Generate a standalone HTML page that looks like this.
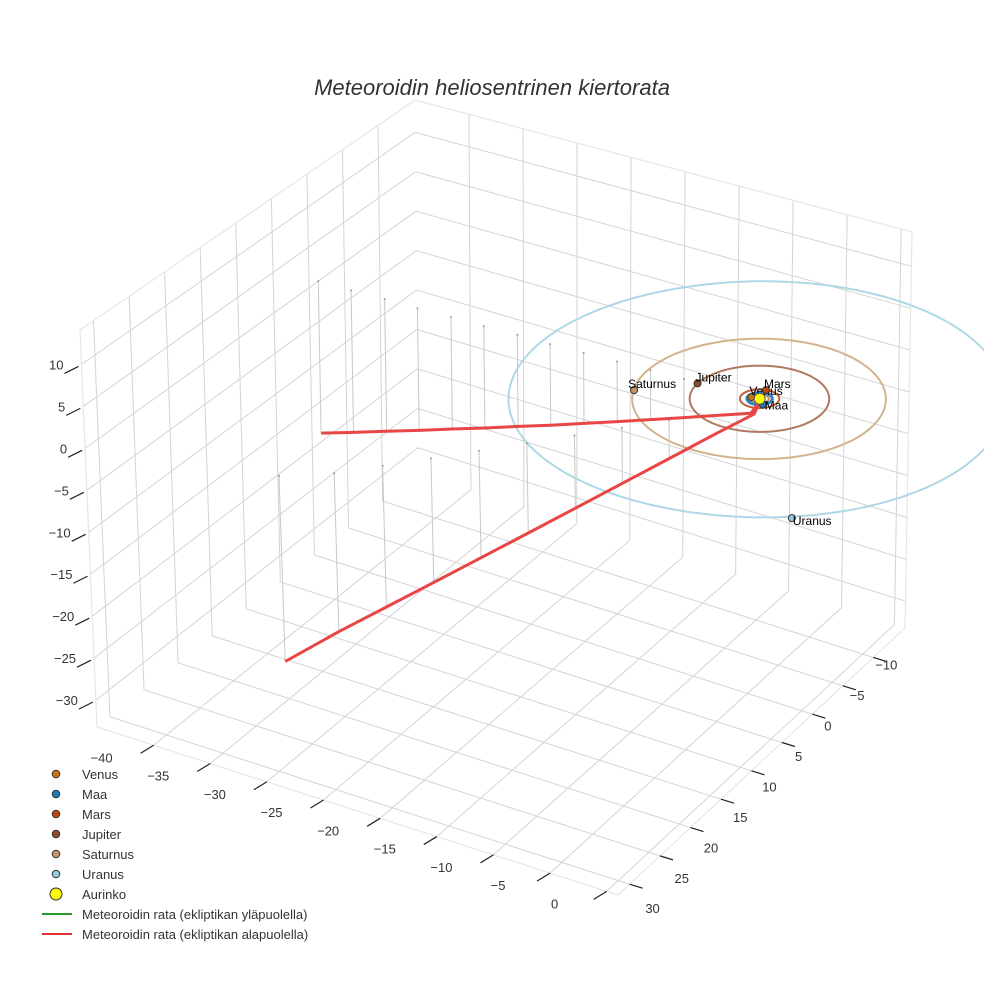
<!DOCTYPE html>
<html><head><meta charset="utf-8">
<style>
html,body{margin:0;padding:0;background:#fff;}
svg{display:block;font-family:"Liberation Sans",sans-serif;}
</style></head>
<body>
<svg id="chart" width="984" height="984" viewBox="0 0 984 984" xmlns="http://www.w3.org/2000/svg">
<rect width="984" height="984" fill="#fff"/>
<text x="492" y="95" text-anchor="middle" font-size="22" font-style="italic" fill="#333">Meteoroidin heliosentrinen kiertorata</text>
<g id="grid"></g>
<g id="orbits"></g>
<g id="traj"></g>
<g id="marks"></g>
<g id="axes"></g>
<g id="legend"></g>
</svg>
<script>
// ---- data ----
const xTicks = [-40,-35,-30,-25,-20,-15,-10,-5,0];
const yTicks = [-10,-5,0,5,10,15,20,25,30];
const zTicks = [-30,-25,-20,-15,-10,-5,0,5,10];
const sunPos = [-5.2,-2.2,0];
const planetNames = ["Venus","Maa","Mars","Jupiter","Saturnus","Uranus"];
const planetX = [-5.9,-4.5,-5.5,-10.7,-14.4,6.8];
const planetY = [-2.1,-1.5,-3.7,-1.9,1.6,13.6];
const planetZ = [0,0,0,0,0,0];
const orbitRadius = [0.72,1.0,1.55,5.5,10.0,19.6];
const upperX = [-6,-9,-12,-15,-18,-21,-24,-27,-30,-33,-36,-39,-42,-45];
const upperY = [-2.2,-2.1,-2.0,-1.9,-1.8,-1.7,-1.6,-1.6,-1.5,-1.5,-1.4,-1.4,-1.3,-1.3];
const upperZ = [-2.0,-3.3,-4.6,-5.9,-7.2,-8.5,-9.8,-11.1,-12.4,-13.7,-15.0,-16.3,-17.6,-18.9];
const lowerX = [-5.0,-7.0,-9.5,-12.0,-14.5,-17.0,-19.5,-22.0,-24.5,-27.0,-30.3];
const lowerY = [-1.0,1.5,4.5,7.5,10.5,13.5,16.5,19.5,22.5,25.5,28.1];
const lowerZ = [-1.0,-2.5,-4.5,-6.5,-8.5,-10.5,-12.5,-14.5,-16.5,-18.5,-21.7];

// ---- styles ----
const planetColor = ["#c8780a","#1f77b4","#c1440e","#8b4a2b","#c8956a","#8fcbdc"];
const orbitColor = ["#e0904a","#2f86c4","#c0603a","#b07a5e","#d2b48c","#add8e6"];
const orbitWidth = [2,3,2,2,2,2];

// ---- projection (trilinear across box corners) ----
const XR=[-45,1], YR=[-15.2,31.9], ZR=[-33.2,14.1];
const A=[418,473],B=[905,628],C=[97,727],D=[618,895];
const E=[415,100],F=[912,232],G=[80,330],H=[608,468];
function lerp(p,q,t){return [p[0]+(q[0]-p[0])*t,p[1]+(q[1]-p[1])*t];}
function proj(x,y,z){
  const u=(x-XR[0])/(XR[1]-XR[0]), v=(y-YR[0])/(YR[1]-YR[0]), w=(z-ZR[0])/(ZR[1]-ZR[0]);
  const fl=lerp(lerp(A,B,u),lerp(C,D,u),v);
  const tp=lerp(lerp(E,F,u),lerp(G,H,u),v);
  return lerp(fl,tp,w);
}
const NS="http://www.w3.org/2000/svg";
function mk(tag,attrs,parent){const e=document.createElementNS(NS,tag);for(const k in attrs)e.setAttribute(k,attrs[k]);parent.appendChild(e);return e;}
function line(p,q,attrs,parent){return mk("line",Object.assign({x1:p[0],y1:p[1],x2:q[0],y2:q[1]},attrs),parent);}

const grid=document.getElementById("grid");
const gs={stroke:"#d4d4d4","stroke-width":1};
xTicks.forEach(x=>{const l=line(proj(x,YR[0],ZR[0]),proj(x,YR[1],ZR[0]),gs,grid);

});
yTicks.forEach(y=>{const l=line(proj(XR[0],y,ZR[0]),proj(XR[1],y,ZR[0]),gs,grid);

});
xTicks.forEach(x=>{const l=line(proj(x,YR[0],ZR[0]),proj(x,YR[0],ZR[1]),gs,grid);

});
zTicks.forEach(z=>{const l=line(proj(XR[0],YR[0],z),proj(XR[1],YR[0],z),gs,grid);

});
yTicks.forEach(y=>{const l=line(proj(XR[0],y,ZR[0]),proj(XR[0],y,ZR[1]),gs,grid);

});
zTicks.forEach(z=>{const l=line(proj(XR[0],YR[0],z),proj(XR[0],YR[1],z),gs,grid);

});
const es={stroke:"#e6e6e6","stroke-width":1.2};
[[[XR[0],YR[1],ZR[0]],[XR[1],YR[1],ZR[0]]],[[XR[1],YR[1],ZR[0]],[XR[1],YR[0],ZR[0]]],
 [[XR[0],YR[1],ZR[0]],[XR[0],YR[1],ZR[1]]],[[XR[0],YR[1],ZR[1]],[XR[0],YR[0],ZR[1]]],
 [[XR[0],YR[0],ZR[1]],[XR[1],YR[0],ZR[1]]],[[XR[1],YR[0],ZR[1]],[XR[1],YR[0],ZR[0]]]].forEach(s=>{
 const l=line(proj(...s[0]),proj(...s[1]),es,grid);
 
 });

const axes=document.getElementById("axes");
const ts={stroke:"#222","stroke-width":1.2};
xTicks.forEach(x=>{const p=proj(x,YR[1],ZR[0]);
 const t=line(p,[p[0]-13,p[1]+8],ts,axes);
 
 
 const tx=mk("text",{x:p[0]-52,y:p[1]+17,"font-size":13,fill:"#333","text-anchor":"middle"},axes);
 tx.textContent=String(x).replace("-","\u2212");
 
 });
yTicks.forEach(y=>{const p=proj(XR[1],y,ZR[0]);
 const t=line(p,[p[0]+13,p[1]+4],ts,axes);
 
 
 const f=(y-yTicks[0])/(yTicks[yTicks.length-1]-yTicks[0]);
 const tx=mk("text",{x:p[0]+13+f*10,y:p[1]+12+f*17,"font-size":13,fill:"#333","text-anchor":"middle"},axes);
 tx.textContent=String(y).replace("-","\u2212");
 
 });
zTicks.forEach(z=>{const p=proj(XR[0],YR[1],z);
 const t=line([p[0]-3,p[1]+2],[p[0]-17,p[1]+9],ts,axes);
 
 
 const tx=mk("text",{x:p[0]-18,y:p[1]+5,"font-size":13,fill:"#333","text-anchor":"end"},axes);
 tx.textContent=String(z).replace("-","\u2212");
 
 });

const orb=document.getElementById("orbits");
orbitRadius.forEach((r,i)=>{
 let pts=[];
 for(let k=0;k<=180;k++){const a=k/180*2*Math.PI;const p=proj(sunPos[0]+r*Math.cos(a),sunPos[1]+r*Math.sin(a),sunPos[2]);pts.push(p[0].toFixed(1)+","+p[1].toFixed(1));}
 const pl=mk("polyline",{points:pts.join(" "),fill:"none",stroke:orbitColor[i],"stroke-width":orbitWidth[i]},orb);
 
 
});

const traj=document.getElementById("traj");
function branch(X,Y,Z,name){
 X.forEach((x,i)=>{ if(i<2) return;
  const p=proj(x,Y[i],Z[i]), q=proj(x,Y[i],0);
  const s=line(p,q,{stroke:"#c8c8c8","stroke-width":1},traj);
  
  
  const d=mk("circle",{cx:q[0],cy:q[1],r:1,fill:"#999"},traj);
  
  
 });
 const pts=X.map((x,i)=>proj(x,Y[i],Z[i]));
 const sp=proj(sunPos[0],sunPos[1],-0.3);
 pts.unshift(sp);
 const pl=mk("polyline",{points:pts.map(p=>p[0].toFixed(1)+","+p[1].toFixed(1)).join(" "),fill:"none",stroke:"#e84545","stroke-width":3,"stroke-linejoin":"round"},traj);
 
 
}
branch(upperX,upperY,upperZ,'meteoroid-path-outgoing');
branch(lowerX,lowerY,lowerZ,'meteoroid-path-incoming');

const marks=document.getElementById("marks");
planetNames.forEach((n,i)=>{
 const p=proj(planetX[i],planetY[i],planetZ[i]);
 const c=mk("circle",{cx:p[0],cy:p[1],r:3.5,fill:planetColor[i],stroke:"#333","stroke-width":1},marks);
 
 
 const t=mk("text",{x:p[0]-2,y:p[1]-2,"font-size":12,fill:"#000"},marks);
 t.textContent=n;
 
 
 if(n==="Maa"){t.setAttribute("y",p[1]+5);t.setAttribute("x",p[0]+2);}
 if(n==="Uranus"){t.setAttribute("y",p[1]+7);t.setAttribute("x",p[0]+1);}
 if(n==="Saturnus"){t.setAttribute("x",p[0]-6);}
});
const sp=proj(...sunPos);
const sun=mk("circle",{cx:sp[0],cy:sp[1],r:5.5,fill:"#ffff00",stroke:"#555","stroke-width":1},marks);



const leg=document.getElementById("legend");
const legNames=["Venus","Maa","Mars","Jupiter","Saturnus","Uranus","Aurinko"];
legNames.forEach((n,i)=>{
 const y=774+i*20;
 const col=i<6?planetColor[i]:"#ffff00";
 const c=mk("circle",{cx:56,cy:y,r:i<6?3.8:6,fill:col,stroke:"#333","stroke-width":1},leg);
 
 
 const t=mk("text",{x:82,y:y+5,"font-size":13,fill:"#333"},leg);
 t.textContent=n;
 
 
});
[["#2a9a2a","Meteoroidin rata (ekliptikan yläpuolella)"],["#e03030","Meteoroidin rata (ekliptikan alapuolella)"]].forEach((d,i)=>{
 const y=914+i*20;
 const l=line([42,y],[72,y],{stroke:d[0],"stroke-width":2},leg);
 
 
 const t=mk("text",{x:82,y:y+5,"font-size":13,fill:"#333"},leg);
 t.textContent=d[1];
 
 
});
</script>
</body></html>
